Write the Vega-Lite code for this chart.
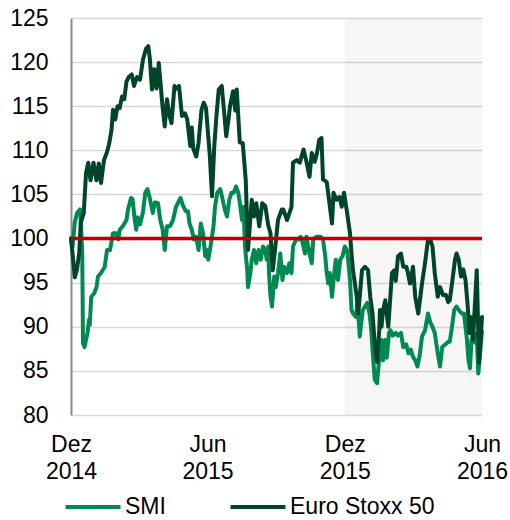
{
  "$schema": "https://vega.github.io/schema/vega-lite/v6.json",
  "width": 411,
  "height": 397,
  "autosize": {"type": "none"},
  "padding": {"left": 71, "top": 18, "right": 28, "bottom": 105},
  "background": "white",
  "config": {"font": "Liberation Sans", "view": {"stroke": null}},
  "datasets": {
    "shade": [{"start": "2015-12-01", "end": "2016-06-01"}],
    "ref": [{"value": 100}],
    "prices": [
      {"date": "2014-12-01", "series": "SMI", "value": 100},
      {"date": "2014-12-03", "series": "SMI", "value": 99},
      {"date": "2014-12-06", "series": "SMI", "value": 101.8},
      {"date": "2014-12-09", "series": "SMI", "value": 102.9},
      {"date": "2014-12-13", "series": "SMI", "value": 103.3},
      {"date": "2014-12-14", "series": "SMI", "value": 102},
      {"date": "2014-12-16", "series": "SMI", "value": 98.4},
      {"date": "2014-12-17", "series": "SMI", "value": 88.1},
      {"date": "2014-12-19", "series": "SMI", "value": 87.7},
      {"date": "2014-12-21", "series": "SMI", "value": 88.5},
      {"date": "2014-12-23", "series": "SMI", "value": 89.3},
      {"date": "2014-12-25", "series": "SMI", "value": 90.8},
      {"date": "2014-12-26", "series": "SMI", "value": 90.2},
      {"date": "2014-12-28", "series": "SMI", "value": 93.4},
      {"date": "2015-01-01", "series": "SMI", "value": 93.8},
      {"date": "2015-01-04", "series": "SMI", "value": 94.5},
      {"date": "2015-01-06", "series": "SMI", "value": 95.7},
      {"date": "2015-01-10", "series": "SMI", "value": 96.1},
      {"date": "2015-01-15", "series": "SMI", "value": 96.8},
      {"date": "2015-01-18", "series": "SMI", "value": 98.7},
      {"date": "2015-01-22", "series": "SMI", "value": 98.7},
      {"date": "2015-01-26", "series": "SMI", "value": 100.6},
      {"date": "2015-01-30", "series": "SMI", "value": 100.6},
      {"date": "2015-02-02", "series": "SMI", "value": 99.9},
      {"date": "2015-02-04", "series": "SMI", "value": 101},
      {"date": "2015-02-08", "series": "SMI", "value": 101.4},
      {"date": "2015-02-13", "series": "SMI", "value": 102.1},
      {"date": "2015-02-15", "series": "SMI", "value": 103.3},
      {"date": "2015-02-19", "series": "SMI", "value": 104.6},
      {"date": "2015-02-21", "series": "SMI", "value": 104.5},
      {"date": "2015-02-24", "series": "SMI", "value": 102.1},
      {"date": "2015-02-26", "series": "SMI", "value": 101},
      {"date": "2015-02-28", "series": "SMI", "value": 102.4},
      {"date": "2015-03-03", "series": "SMI", "value": 101.6},
      {"date": "2015-03-07", "series": "SMI", "value": 103},
      {"date": "2015-03-10", "series": "SMI", "value": 105.2},
      {"date": "2015-03-13", "series": "SMI", "value": 105.6},
      {"date": "2015-03-16", "series": "SMI", "value": 104.6},
      {"date": "2015-03-20", "series": "SMI", "value": 102.9},
      {"date": "2015-03-23", "series": "SMI", "value": 104.1},
      {"date": "2015-03-27", "series": "SMI", "value": 104},
      {"date": "2015-03-30", "series": "SMI", "value": 102.1},
      {"date": "2015-04-02", "series": "SMI", "value": 101.1},
      {"date": "2015-04-05", "series": "SMI", "value": 98.7},
      {"date": "2015-04-08", "series": "SMI", "value": 101.4},
      {"date": "2015-04-12", "series": "SMI", "value": 101.4},
      {"date": "2015-04-16", "series": "SMI", "value": 102.1},
      {"date": "2015-04-20", "series": "SMI", "value": 103.6},
      {"date": "2015-04-23", "series": "SMI", "value": 104.1},
      {"date": "2015-04-26", "series": "SMI", "value": 104.6},
      {"date": "2015-04-29", "series": "SMI", "value": 103.8},
      {"date": "2015-05-03", "series": "SMI", "value": 103.1},
      {"date": "2015-05-06", "series": "SMI", "value": 103.1},
      {"date": "2015-05-08", "series": "SMI", "value": 101.7},
      {"date": "2015-05-11", "series": "SMI", "value": 101},
      {"date": "2015-05-14", "series": "SMI", "value": 99.9},
      {"date": "2015-05-17", "series": "SMI", "value": 100.2},
      {"date": "2015-05-20", "series": "SMI", "value": 98.7},
      {"date": "2015-05-23", "series": "SMI", "value": 101.7},
      {"date": "2015-05-26", "series": "SMI", "value": 100.6},
      {"date": "2015-05-29", "series": "SMI", "value": 98},
      {"date": "2015-05-31", "series": "SMI", "value": 98.7},
      {"date": "2015-06-02", "series": "SMI", "value": 97.6},
      {"date": "2015-06-05", "series": "SMI", "value": 99.1},
      {"date": "2015-06-09", "series": "SMI", "value": 101.4},
      {"date": "2015-06-11", "series": "SMI", "value": 103.6},
      {"date": "2015-06-14", "series": "SMI", "value": 105.2},
      {"date": "2015-06-18", "series": "SMI", "value": 105.6},
      {"date": "2015-06-21", "series": "SMI", "value": 104.5},
      {"date": "2015-06-24", "series": "SMI", "value": 103.3},
      {"date": "2015-06-27", "series": "SMI", "value": 102.5},
      {"date": "2015-06-30", "series": "SMI", "value": 104.4},
      {"date": "2015-07-03", "series": "SMI", "value": 105.2},
      {"date": "2015-07-06", "series": "SMI", "value": 105.2},
      {"date": "2015-07-09", "series": "SMI", "value": 105.9},
      {"date": "2015-07-12", "series": "SMI", "value": 105.2},
      {"date": "2015-07-14", "series": "SMI", "value": 104.1},
      {"date": "2015-07-17", "series": "SMI", "value": 102.1},
      {"date": "2015-07-19", "series": "SMI", "value": 103.6},
      {"date": "2015-07-21", "series": "SMI", "value": 99.1},
      {"date": "2015-07-24", "series": "SMI", "value": 96.4},
      {"date": "2015-07-25", "series": "SMI", "value": 94.5},
      {"date": "2015-07-28", "series": "SMI", "value": 96},
      {"date": "2015-07-30", "series": "SMI", "value": 97.6},
      {"date": "2015-08-02", "series": "SMI", "value": 98.7},
      {"date": "2015-08-05", "series": "SMI", "value": 97.2},
      {"date": "2015-08-08", "series": "SMI", "value": 98.7},
      {"date": "2015-08-11", "series": "SMI", "value": 97.6},
      {"date": "2015-08-14", "series": "SMI", "value": 99.1},
      {"date": "2015-08-17", "series": "SMI", "value": 98.7},
      {"date": "2015-08-19", "series": "SMI", "value": 97.6},
      {"date": "2015-08-21", "series": "SMI", "value": 99.1},
      {"date": "2015-08-22", "series": "SMI", "value": 96.1},
      {"date": "2015-08-24", "series": "SMI", "value": 93.4},
      {"date": "2015-08-26", "series": "SMI", "value": 92.3},
      {"date": "2015-08-29", "series": "SMI", "value": 95.7},
      {"date": "2015-08-31", "series": "SMI", "value": 94.5},
      {"date": "2015-09-03", "series": "SMI", "value": 96.1},
      {"date": "2015-09-06", "series": "SMI", "value": 98.3},
      {"date": "2015-09-09", "series": "SMI", "value": 95.3},
      {"date": "2015-09-11", "series": "SMI", "value": 96.8},
      {"date": "2015-09-15", "series": "SMI", "value": 96.1},
      {"date": "2015-09-18", "series": "SMI", "value": 97.2},
      {"date": "2015-09-21", "series": "SMI", "value": 96.1},
      {"date": "2015-09-23", "series": "SMI", "value": 99.1},
      {"date": "2015-09-27", "series": "SMI", "value": 99.9},
      {"date": "2015-09-30", "series": "SMI", "value": 99.9},
      {"date": "2015-10-03", "series": "SMI", "value": 100.2},
      {"date": "2015-10-06", "series": "SMI", "value": 99.5},
      {"date": "2015-10-09", "series": "SMI", "value": 98.3},
      {"date": "2015-10-11", "series": "SMI", "value": 100.2},
      {"date": "2015-10-15", "series": "SMI", "value": 98.3},
      {"date": "2015-10-18", "series": "SMI", "value": 97.2},
      {"date": "2015-10-20", "series": "SMI", "value": 99.9},
      {"date": "2015-10-24", "series": "SMI", "value": 100.2},
      {"date": "2015-10-27", "series": "SMI", "value": 100.2},
      {"date": "2015-10-30", "series": "SMI", "value": 100.2},
      {"date": "2015-11-02", "series": "SMI", "value": 99.9},
      {"date": "2015-11-05", "series": "SMI", "value": 98},
      {"date": "2015-11-07", "series": "SMI", "value": 96.1},
      {"date": "2015-11-09", "series": "SMI", "value": 94.9},
      {"date": "2015-11-11", "series": "SMI", "value": 96.1},
      {"date": "2015-11-14", "series": "SMI", "value": 93.4},
      {"date": "2015-11-17", "series": "SMI", "value": 96.1},
      {"date": "2015-11-19", "series": "SMI", "value": 97.6},
      {"date": "2015-11-22", "series": "SMI", "value": 95.3},
      {"date": "2015-11-25", "series": "SMI", "value": 97.6},
      {"date": "2015-11-28", "series": "SMI", "value": 98},
      {"date": "2015-12-01", "series": "SMI", "value": 99.1},
      {"date": "2015-12-04", "series": "SMI", "value": 98.7},
      {"date": "2015-12-06", "series": "SMI", "value": 97.2},
      {"date": "2015-12-08", "series": "SMI", "value": 95.3},
      {"date": "2015-12-10", "series": "SMI", "value": 91.9},
      {"date": "2015-12-12", "series": "SMI", "value": 91.5},
      {"date": "2015-12-16", "series": "SMI", "value": 91.1},
      {"date": "2015-12-18", "series": "SMI", "value": 93},
      {"date": "2015-12-21", "series": "SMI", "value": 88.9},
      {"date": "2015-12-25", "series": "SMI", "value": 91.9},
      {"date": "2015-12-28", "series": "SMI", "value": 92.3},
      {"date": "2015-12-31", "series": "SMI", "value": 92.7},
      {"date": "2016-01-03", "series": "SMI", "value": 91.5},
      {"date": "2016-01-05", "series": "SMI", "value": 90},
      {"date": "2016-01-07", "series": "SMI", "value": 87.4},
      {"date": "2016-01-10", "series": "SMI", "value": 84},
      {"date": "2016-01-13", "series": "SMI", "value": 83.6},
      {"date": "2016-01-15", "series": "SMI", "value": 85.5},
      {"date": "2016-01-17", "series": "SMI", "value": 87},
      {"date": "2016-01-19", "series": "SMI", "value": 88.5},
      {"date": "2016-01-21", "series": "SMI", "value": 86.2},
      {"date": "2016-01-24", "series": "SMI", "value": 88.5},
      {"date": "2016-01-26", "series": "SMI", "value": 86.5},
      {"date": "2016-01-29", "series": "SMI", "value": 89.3},
      {"date": "2016-01-31", "series": "SMI", "value": 89.6},
      {"date": "2016-02-03", "series": "SMI", "value": 89},
      {"date": "2016-02-07", "series": "SMI", "value": 89.3},
      {"date": "2016-02-10", "series": "SMI", "value": 89},
      {"date": "2016-02-14", "series": "SMI", "value": 89.3},
      {"date": "2016-02-17", "series": "SMI", "value": 87.7},
      {"date": "2016-02-21", "series": "SMI", "value": 88},
      {"date": "2016-02-24", "series": "SMI", "value": 87},
      {"date": "2016-02-27", "series": "SMI", "value": 87.4},
      {"date": "2016-03-01", "series": "SMI", "value": 86.6},
      {"date": "2016-03-04", "series": "SMI", "value": 86.2},
      {"date": "2016-03-07", "series": "SMI", "value": 85.5},
      {"date": "2016-03-10", "series": "SMI", "value": 86.8},
      {"date": "2016-03-13", "series": "SMI", "value": 88.9},
      {"date": "2016-03-17", "series": "SMI", "value": 89.6},
      {"date": "2016-03-21", "series": "SMI", "value": 91.5},
      {"date": "2016-03-24", "series": "SMI", "value": 90.5},
      {"date": "2016-03-27", "series": "SMI", "value": 90},
      {"date": "2016-03-30", "series": "SMI", "value": 89.3},
      {"date": "2016-04-03", "series": "SMI", "value": 87},
      {"date": "2016-04-06", "series": "SMI", "value": 85.5},
      {"date": "2016-04-09", "series": "SMI", "value": 87.7},
      {"date": "2016-04-13", "series": "SMI", "value": 88},
      {"date": "2016-04-17", "series": "SMI", "value": 88.3},
      {"date": "2016-04-19", "series": "SMI", "value": 88.3},
      {"date": "2016-04-22", "series": "SMI", "value": 90},
      {"date": "2016-04-25", "series": "SMI", "value": 91.9},
      {"date": "2016-04-28", "series": "SMI", "value": 92.3},
      {"date": "2016-05-01", "series": "SMI", "value": 91.9},
      {"date": "2016-05-05", "series": "SMI", "value": 91.5},
      {"date": "2016-05-08", "series": "SMI", "value": 91.5},
      {"date": "2016-05-12", "series": "SMI", "value": 88.5},
      {"date": "2016-05-14", "series": "SMI", "value": 86.2},
      {"date": "2016-05-16", "series": "SMI", "value": 85.3},
      {"date": "2016-05-18", "series": "SMI", "value": 88.5},
      {"date": "2016-05-20", "series": "SMI", "value": 89},
      {"date": "2016-05-23", "series": "SMI", "value": 88.2},
      {"date": "2016-05-25", "series": "SMI", "value": 89.3},
      {"date": "2016-05-27", "series": "SMI", "value": 84.7},
      {"date": "2016-05-29", "series": "SMI", "value": 86.5},
      {"date": "2016-06-01", "series": "SMI", "value": 89.5},
      {"date": "2014-12-01", "series": "Euro Stoxx 50", "value": 100},
      {"date": "2014-12-04", "series": "Euro Stoxx 50", "value": 97.5},
      {"date": "2014-12-06", "series": "Euro Stoxx 50", "value": 95.6},
      {"date": "2014-12-09", "series": "Euro Stoxx 50", "value": 96.5},
      {"date": "2014-12-12", "series": "Euro Stoxx 50", "value": 98.4},
      {"date": "2014-12-14", "series": "Euro Stoxx 50", "value": 101.8},
      {"date": "2014-12-18", "series": "Euro Stoxx 50", "value": 102.9},
      {"date": "2014-12-21", "series": "Euro Stoxx 50", "value": 107.4},
      {"date": "2014-12-24", "series": "Euro Stoxx 50", "value": 108.6},
      {"date": "2014-12-27", "series": "Euro Stoxx 50", "value": 106.6},
      {"date": "2014-12-31", "series": "Euro Stoxx 50", "value": 108.6},
      {"date": "2015-01-04", "series": "Euro Stoxx 50", "value": 106.6},
      {"date": "2015-01-07", "series": "Euro Stoxx 50", "value": 108.5},
      {"date": "2015-01-10", "series": "Euro Stoxx 50", "value": 106.3},
      {"date": "2015-01-14", "series": "Euro Stoxx 50", "value": 108.9},
      {"date": "2015-01-18", "series": "Euro Stoxx 50", "value": 109.8},
      {"date": "2015-01-21", "series": "Euro Stoxx 50", "value": 110.8},
      {"date": "2015-01-24", "series": "Euro Stoxx 50", "value": 112.3},
      {"date": "2015-01-26", "series": "Euro Stoxx 50", "value": 114.6},
      {"date": "2015-01-29", "series": "Euro Stoxx 50", "value": 113.5},
      {"date": "2015-02-01", "series": "Euro Stoxx 50", "value": 115},
      {"date": "2015-02-04", "series": "Euro Stoxx 50", "value": 114.8},
      {"date": "2015-02-07", "series": "Euro Stoxx 50", "value": 116.1},
      {"date": "2015-02-10", "series": "Euro Stoxx 50", "value": 115.8},
      {"date": "2015-02-13", "series": "Euro Stoxx 50", "value": 117.8},
      {"date": "2015-02-16", "series": "Euro Stoxx 50", "value": 118.3},
      {"date": "2015-02-20", "series": "Euro Stoxx 50", "value": 118.6},
      {"date": "2015-02-23", "series": "Euro Stoxx 50", "value": 117.3},
      {"date": "2015-02-27", "series": "Euro Stoxx 50", "value": 118.3},
      {"date": "2015-03-03", "series": "Euro Stoxx 50", "value": 118},
      {"date": "2015-03-07", "series": "Euro Stoxx 50", "value": 120.3},
      {"date": "2015-03-11", "series": "Euro Stoxx 50", "value": 121.5},
      {"date": "2015-03-14", "series": "Euro Stoxx 50", "value": 121.8},
      {"date": "2015-03-16", "series": "Euro Stoxx 50", "value": 120.5},
      {"date": "2015-03-19", "series": "Euro Stoxx 50", "value": 116.9},
      {"date": "2015-03-22", "series": "Euro Stoxx 50", "value": 119.2},
      {"date": "2015-03-25", "series": "Euro Stoxx 50", "value": 117},
      {"date": "2015-03-28", "series": "Euro Stoxx 50", "value": 119.9},
      {"date": "2015-03-31", "series": "Euro Stoxx 50", "value": 117},
      {"date": "2015-04-02", "series": "Euro Stoxx 50", "value": 115},
      {"date": "2015-04-05", "series": "Euro Stoxx 50", "value": 112.7},
      {"date": "2015-04-08", "series": "Euro Stoxx 50", "value": 115.8},
      {"date": "2015-04-11", "series": "Euro Stoxx 50", "value": 114},
      {"date": "2015-04-14", "series": "Euro Stoxx 50", "value": 113.1},
      {"date": "2015-04-18", "series": "Euro Stoxx 50", "value": 117.3},
      {"date": "2015-04-21", "series": "Euro Stoxx 50", "value": 117},
      {"date": "2015-04-24", "series": "Euro Stoxx 50", "value": 117.3},
      {"date": "2015-04-28", "series": "Euro Stoxx 50", "value": 113.9},
      {"date": "2015-05-02", "series": "Euro Stoxx 50", "value": 114.2},
      {"date": "2015-05-05", "series": "Euro Stoxx 50", "value": 113.5},
      {"date": "2015-05-09", "series": "Euro Stoxx 50", "value": 110.5},
      {"date": "2015-05-11", "series": "Euro Stoxx 50", "value": 112.6},
      {"date": "2015-05-13", "series": "Euro Stoxx 50", "value": 110.2},
      {"date": "2015-05-17", "series": "Euro Stoxx 50", "value": 109.3},
      {"date": "2015-05-20", "series": "Euro Stoxx 50", "value": 110.8},
      {"date": "2015-05-24", "series": "Euro Stoxx 50", "value": 114.6},
      {"date": "2015-05-27", "series": "Euro Stoxx 50", "value": 115.4},
      {"date": "2015-05-30", "series": "Euro Stoxx 50", "value": 114.8},
      {"date": "2015-06-02", "series": "Euro Stoxx 50", "value": 111.6},
      {"date": "2015-06-04", "series": "Euro Stoxx 50", "value": 109.5},
      {"date": "2015-06-07", "series": "Euro Stoxx 50", "value": 104.8},
      {"date": "2015-06-10", "series": "Euro Stoxx 50", "value": 110.4},
      {"date": "2015-06-13", "series": "Euro Stoxx 50", "value": 114},
      {"date": "2015-06-16", "series": "Euro Stoxx 50", "value": 116.9},
      {"date": "2015-06-20", "series": "Euro Stoxx 50", "value": 117.3},
      {"date": "2015-06-23", "series": "Euro Stoxx 50", "value": 114.5},
      {"date": "2015-06-26", "series": "Euro Stoxx 50", "value": 111.6},
      {"date": "2015-06-29", "series": "Euro Stoxx 50", "value": 113.5},
      {"date": "2015-07-01", "series": "Euro Stoxx 50", "value": 115},
      {"date": "2015-07-05", "series": "Euro Stoxx 50", "value": 116.7},
      {"date": "2015-07-08", "series": "Euro Stoxx 50", "value": 114.5},
      {"date": "2015-07-10", "series": "Euro Stoxx 50", "value": 116.9},
      {"date": "2015-07-14", "series": "Euro Stoxx 50", "value": 110.9},
      {"date": "2015-07-18", "series": "Euro Stoxx 50", "value": 110.8},
      {"date": "2015-07-22", "series": "Euro Stoxx 50", "value": 106.6},
      {"date": "2015-07-25", "series": "Euro Stoxx 50", "value": 98.7},
      {"date": "2015-07-30", "series": "Euro Stoxx 50", "value": 104.4},
      {"date": "2015-08-02", "series": "Euro Stoxx 50", "value": 102.5},
      {"date": "2015-08-05", "series": "Euro Stoxx 50", "value": 104},
      {"date": "2015-08-09", "series": "Euro Stoxx 50", "value": 101.4},
      {"date": "2015-08-13", "series": "Euro Stoxx 50", "value": 104},
      {"date": "2015-08-17", "series": "Euro Stoxx 50", "value": 103.7},
      {"date": "2015-08-21", "series": "Euro Stoxx 50", "value": 101.5},
      {"date": "2015-08-24", "series": "Euro Stoxx 50", "value": 100.6},
      {"date": "2015-08-27", "series": "Euro Stoxx 50", "value": 96.4},
      {"date": "2015-08-30", "series": "Euro Stoxx 50", "value": 98.7},
      {"date": "2015-09-03", "series": "Euro Stoxx 50", "value": 102.1},
      {"date": "2015-09-08", "series": "Euro Stoxx 50", "value": 103.3},
      {"date": "2015-09-10", "series": "Euro Stoxx 50", "value": 103.3},
      {"date": "2015-09-15", "series": "Euro Stoxx 50", "value": 102.1},
      {"date": "2015-09-21", "series": "Euro Stoxx 50", "value": 103.6},
      {"date": "2015-09-23", "series": "Euro Stoxx 50", "value": 108.6},
      {"date": "2015-09-28", "series": "Euro Stoxx 50", "value": 108.9},
      {"date": "2015-10-02", "series": "Euro Stoxx 50", "value": 108.6},
      {"date": "2015-10-07", "series": "Euro Stoxx 50", "value": 110.1},
      {"date": "2015-10-11", "series": "Euro Stoxx 50", "value": 108.7},
      {"date": "2015-10-15", "series": "Euro Stoxx 50", "value": 107},
      {"date": "2015-10-18", "series": "Euro Stoxx 50", "value": 109.7},
      {"date": "2015-10-22", "series": "Euro Stoxx 50", "value": 108.7},
      {"date": "2015-10-25", "series": "Euro Stoxx 50", "value": 109.7},
      {"date": "2015-10-28", "series": "Euro Stoxx 50", "value": 111.2},
      {"date": "2015-10-31", "series": "Euro Stoxx 50", "value": 111.4},
      {"date": "2015-11-02", "series": "Euro Stoxx 50", "value": 106.7},
      {"date": "2015-11-07", "series": "Euro Stoxx 50", "value": 106.4},
      {"date": "2015-11-10", "series": "Euro Stoxx 50", "value": 104.4},
      {"date": "2015-11-14", "series": "Euro Stoxx 50", "value": 101.7},
      {"date": "2015-11-16", "series": "Euro Stoxx 50", "value": 105.2},
      {"date": "2015-11-20", "series": "Euro Stoxx 50", "value": 104.4},
      {"date": "2015-11-24", "series": "Euro Stoxx 50", "value": 104.7},
      {"date": "2015-11-27", "series": "Euro Stoxx 50", "value": 103.6},
      {"date": "2015-11-30", "series": "Euro Stoxx 50", "value": 105.2},
      {"date": "2015-12-04", "series": "Euro Stoxx 50", "value": 103},
      {"date": "2015-12-08", "series": "Euro Stoxx 50", "value": 100.6},
      {"date": "2015-12-10", "series": "Euro Stoxx 50", "value": 98.3},
      {"date": "2015-12-12", "series": "Euro Stoxx 50", "value": 96.4},
      {"date": "2015-12-17", "series": "Euro Stoxx 50", "value": 93.4},
      {"date": "2015-12-19", "series": "Euro Stoxx 50", "value": 91.5},
      {"date": "2015-12-24", "series": "Euro Stoxx 50", "value": 96.4},
      {"date": "2015-12-28", "series": "Euro Stoxx 50", "value": 96.8},
      {"date": "2016-01-01", "series": "Euro Stoxx 50", "value": 96.4},
      {"date": "2016-01-04", "series": "Euro Stoxx 50", "value": 93.4},
      {"date": "2016-01-07", "series": "Euro Stoxx 50", "value": 91.5},
      {"date": "2016-01-10", "series": "Euro Stoxx 50", "value": 88},
      {"date": "2016-01-13", "series": "Euro Stoxx 50", "value": 86},
      {"date": "2016-01-16", "series": "Euro Stoxx 50", "value": 89.6},
      {"date": "2016-01-17", "series": "Euro Stoxx 50", "value": 91.9},
      {"date": "2016-01-19", "series": "Euro Stoxx 50", "value": 90},
      {"date": "2016-01-21", "series": "Euro Stoxx 50", "value": 91.8},
      {"date": "2016-01-24", "series": "Euro Stoxx 50", "value": 93},
      {"date": "2016-01-28", "series": "Euro Stoxx 50", "value": 90},
      {"date": "2016-02-02", "series": "Euro Stoxx 50", "value": 96.1},
      {"date": "2016-02-05", "series": "Euro Stoxx 50", "value": 96.4},
      {"date": "2016-02-07", "series": "Euro Stoxx 50", "value": 95.2},
      {"date": "2016-02-10", "series": "Euro Stoxx 50", "value": 98},
      {"date": "2016-02-14", "series": "Euro Stoxx 50", "value": 98.3},
      {"date": "2016-02-17", "series": "Euro Stoxx 50", "value": 96.8},
      {"date": "2016-02-21", "series": "Euro Stoxx 50", "value": 96.8},
      {"date": "2016-02-23", "series": "Euro Stoxx 50", "value": 96.2},
      {"date": "2016-02-26", "series": "Euro Stoxx 50", "value": 94.9},
      {"date": "2016-03-01", "series": "Euro Stoxx 50", "value": 96.8},
      {"date": "2016-03-04", "series": "Euro Stoxx 50", "value": 93.4},
      {"date": "2016-03-08", "series": "Euro Stoxx 50", "value": 91.5},
      {"date": "2016-03-13", "series": "Euro Stoxx 50", "value": 94.9},
      {"date": "2016-03-17", "series": "Euro Stoxx 50", "value": 97.2},
      {"date": "2016-03-21", "series": "Euro Stoxx 50", "value": 99.9},
      {"date": "2016-03-24", "series": "Euro Stoxx 50", "value": 99.9},
      {"date": "2016-03-27", "series": "Euro Stoxx 50", "value": 99.1},
      {"date": "2016-03-30", "series": "Euro Stoxx 50", "value": 96.1},
      {"date": "2016-04-03", "series": "Euro Stoxx 50", "value": 93.4},
      {"date": "2016-04-06", "series": "Euro Stoxx 50", "value": 94.5},
      {"date": "2016-04-10", "series": "Euro Stoxx 50", "value": 93.6},
      {"date": "2016-04-14", "series": "Euro Stoxx 50", "value": 93.6},
      {"date": "2016-04-17", "series": "Euro Stoxx 50", "value": 92.8},
      {"date": "2016-04-19", "series": "Euro Stoxx 50", "value": 93},
      {"date": "2016-04-22", "series": "Euro Stoxx 50", "value": 94.9},
      {"date": "2016-04-26", "series": "Euro Stoxx 50", "value": 97.6},
      {"date": "2016-04-28", "series": "Euro Stoxx 50", "value": 98.3},
      {"date": "2016-05-01", "series": "Euro Stoxx 50", "value": 97.6},
      {"date": "2016-05-04", "series": "Euro Stoxx 50", "value": 95.7},
      {"date": "2016-05-07", "series": "Euro Stoxx 50", "value": 96.5},
      {"date": "2016-05-10", "series": "Euro Stoxx 50", "value": 95.3},
      {"date": "2016-05-13", "series": "Euro Stoxx 50", "value": 92.3},
      {"date": "2016-05-15", "series": "Euro Stoxx 50", "value": 89.3},
      {"date": "2016-05-17", "series": "Euro Stoxx 50", "value": 91.1},
      {"date": "2016-05-20", "series": "Euro Stoxx 50", "value": 88.5},
      {"date": "2016-05-25", "series": "Euro Stoxx 50", "value": 96.4},
      {"date": "2016-05-28", "series": "Euro Stoxx 50", "value": 85.9},
      {"date": "2016-06-01", "series": "Euro Stoxx 50", "value": 91.1}
    ]
  },
  "layer": [
    {
      "data": {"name": "shade"},
      "mark": {"type": "rect", "fill": "#000000", "fillOpacity": 0.035},
      "encoding": {
        "x": {"field": "start", "type": "temporal", "title": null,
              "scale": {"type": "utc", "domain": [{"year": 2014, "month": 12, "date": 1, "utc": true}, {"year": 2016, "month": 6, "date": 1, "utc": true}]}},
        "x2": {"field": "end"}
      }
    },
    {
      "data": {"name": "prices"},
      "mark": {"type": "line", "strokeWidth": 4, "strokeJoin": "round", "strokeCap": "round"},
      "encoding": {
        "x": {"field": "date", "type": "temporal", "title": null,
              "scale": {"type": "utc", "domain": [{"year": 2014, "month": 12, "date": 1, "utc": true}, {"year": 2016, "month": 6, "date": 1, "utc": true}]},
              "axis": {"values": [{"year": 2014, "month": 12, "date": 1, "utc": true}, {"year": 2015, "month": 6, "date": 1, "utc": true}, {"year": 2015, "month": 12, "date": 1, "utc": true}, {"year": 2016, "month": 6, "date": 1, "utc": true}],
                       "labelExpr": "[utcFormat(datum.value, '%m') == '12' ? 'Dez' : 'Jun', utcFormat(datum.value, '%Y')]",
                       "labelFont": "Liberation Sans", "labelFontSize": 23, "labelColor": "#000000", "labelLineHeight": 27,
                       "labelPadding": 18, "ticks": false, "tickSize": 0, "domain": false, "grid": false,
                       "labelOverlap": false, "labelFlush": false, "labelAlign": "center", "labelBaseline": "top"}},
        "y": {"field": "value", "type": "quantitative", "title": null,
              "scale": {"domain": [80, 125], "nice": false, "zero": false},
              "axis": {"values": [80, 85, 90, 95, 100, 105, 110, 115, 120, 125],
                       "labelFont": "Liberation Sans", "labelFontSize": 23, "labelColor": "#000000", "labelPadding": 23,
                       "ticks": false, "tickSize": 0, "domain": true, "domainColor": "#8c8c8c", "domainWidth": 2,
                       "grid": true, "gridColor": "#d9d9d9", "gridWidth": 1.5}},
        "color": {"field": "series", "type": "nominal",
                  "scale": {"domain": ["SMI", "Euro Stoxx 50"], "range": ["#008a52", "#00442a"]},
                  "legend": {"orient": "none", "legendX": 10, "legendY": 477, "direction": "horizontal", "title": null,
                             "symbolType": "M-2.75,0H2.75", "symbolStrokeWidth": 4, "symbolSize": 400,
                             "labelFont": "Liberation Sans", "labelFontSize": 23, "labelColor": "#000000",
                             "labelOffset": 20, "columnPadding": 56, "padding": 0}}
      }
    },
    {
      "data": {"name": "ref"},
      "mark": {"type": "rule", "color": "#c00000", "strokeWidth": 3.5},
      "encoding": {"y": {"field": "value", "type": "quantitative"}}
    }
  ]
}
